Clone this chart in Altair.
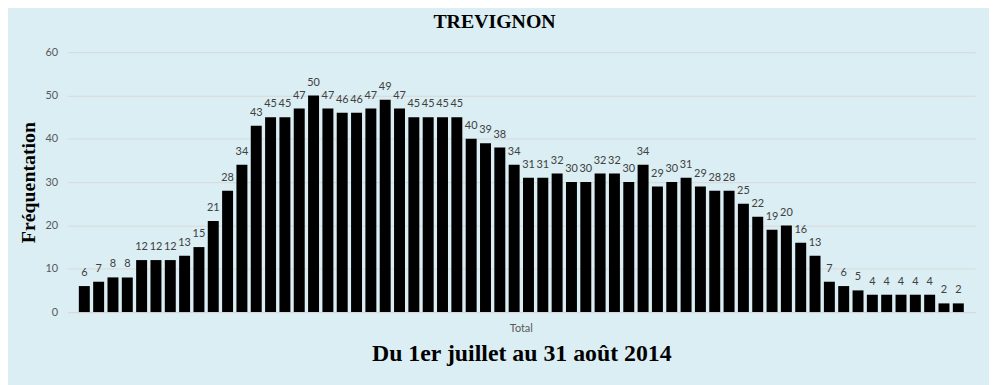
import altair as alt
import pandas as pd

days = list(range(1, 63))
visitors = [6, 7, 8, 8, 12, 12, 12, 13, 15, 21,
            28, 34, 43, 45, 45, 47, 50, 47, 46, 46,
            47, 49, 47, 45, 45, 45, 45, 40, 39, 38,
            34, 31, 31, 32, 30, 30, 32, 32, 30, 34,
            29, 30, 31, 29, 28, 28, 25, 22, 19, 20,
            16, 13, 7, 6, 5, 4, 4, 4, 4, 4,
            2, 2]
y_ticks = [0, 10, 20, 30, 40, 50, 60]

df = pd.DataFrame({"day": days, "n": visitors})

W, H = 915, 262
step = W / (len(days) + 2 * 0.79 - 0.235)

x = alt.X(
    "day:O", sort=None,
    scale=alt.Scale(paddingInner=0.235, paddingOuter=0.79),
    axis=alt.Axis(
        title="Du 1er juillet au 31 août 2014",
        titleFont="Liberation Serif", titleFontSize=24, titleFontWeight="bold",
        titleColor="black", titleBaseline="alphabetic", titleY=49,
        labelExpr="datum.value == 31 ? 'Total' : ''",
        labelOffset=step / 2, labelAngle=0, labelOverlap=False,
        labelFont="Lato", labelFontSize=11, labelColor="#595959",
        labelPadding=11, ticks=False, domainColor="#D9D9D9", grid=False,
    ),
)
y = alt.Y(
    "n:Q",
    scale=alt.Scale(domain=[0, 60], nice=False),
    axis=alt.Axis(
        values=y_ticks, title="Fréquentation",
        titleFont="Liberation Serif", titleFontSize=20, titleFontWeight="bold",
        titleColor="black", titleBaseline="alphabetic", titleX=-33, titleY=H / 2,
        titleAngle=270,
        labelFont="Lato", labelFontSize=11, labelColor="#595959", labelPadding=10,
        ticks=False, domain=False, gridColor="#D9D9D9", gridWidth=1,
    ),
)

bars = alt.Chart(df).mark_bar(color="black").encode(x=x, y=y)
labels = alt.Chart(df).mark_text(
    font="Lato", fontSize=11, color="#404040", baseline="alphabetic", dy=-10
).encode(x=alt.X("day:O", sort=None), y=alt.Y("n:Q"), text="n:Q")

chart = alt.layer(bars, labels).properties(
    width=W, height=H,
    title=alt.TitleParams(
        "TREVIGNON", font="Liberation Serif", fontSize=20, fontWeight="bold",
        color="black", anchor="middle", dx=-27, offset=14,
    ),
    background="#DAEEF3",
    padding={"left": 60, "top": 43, "right": 14, "bottom": 72},
    autosize=alt.AutoSizeParams(type="none"),
).configure_view(strokeWidth=0)

chart.save("out.html", embed_options={"renderer": "svg", "actions": False})
